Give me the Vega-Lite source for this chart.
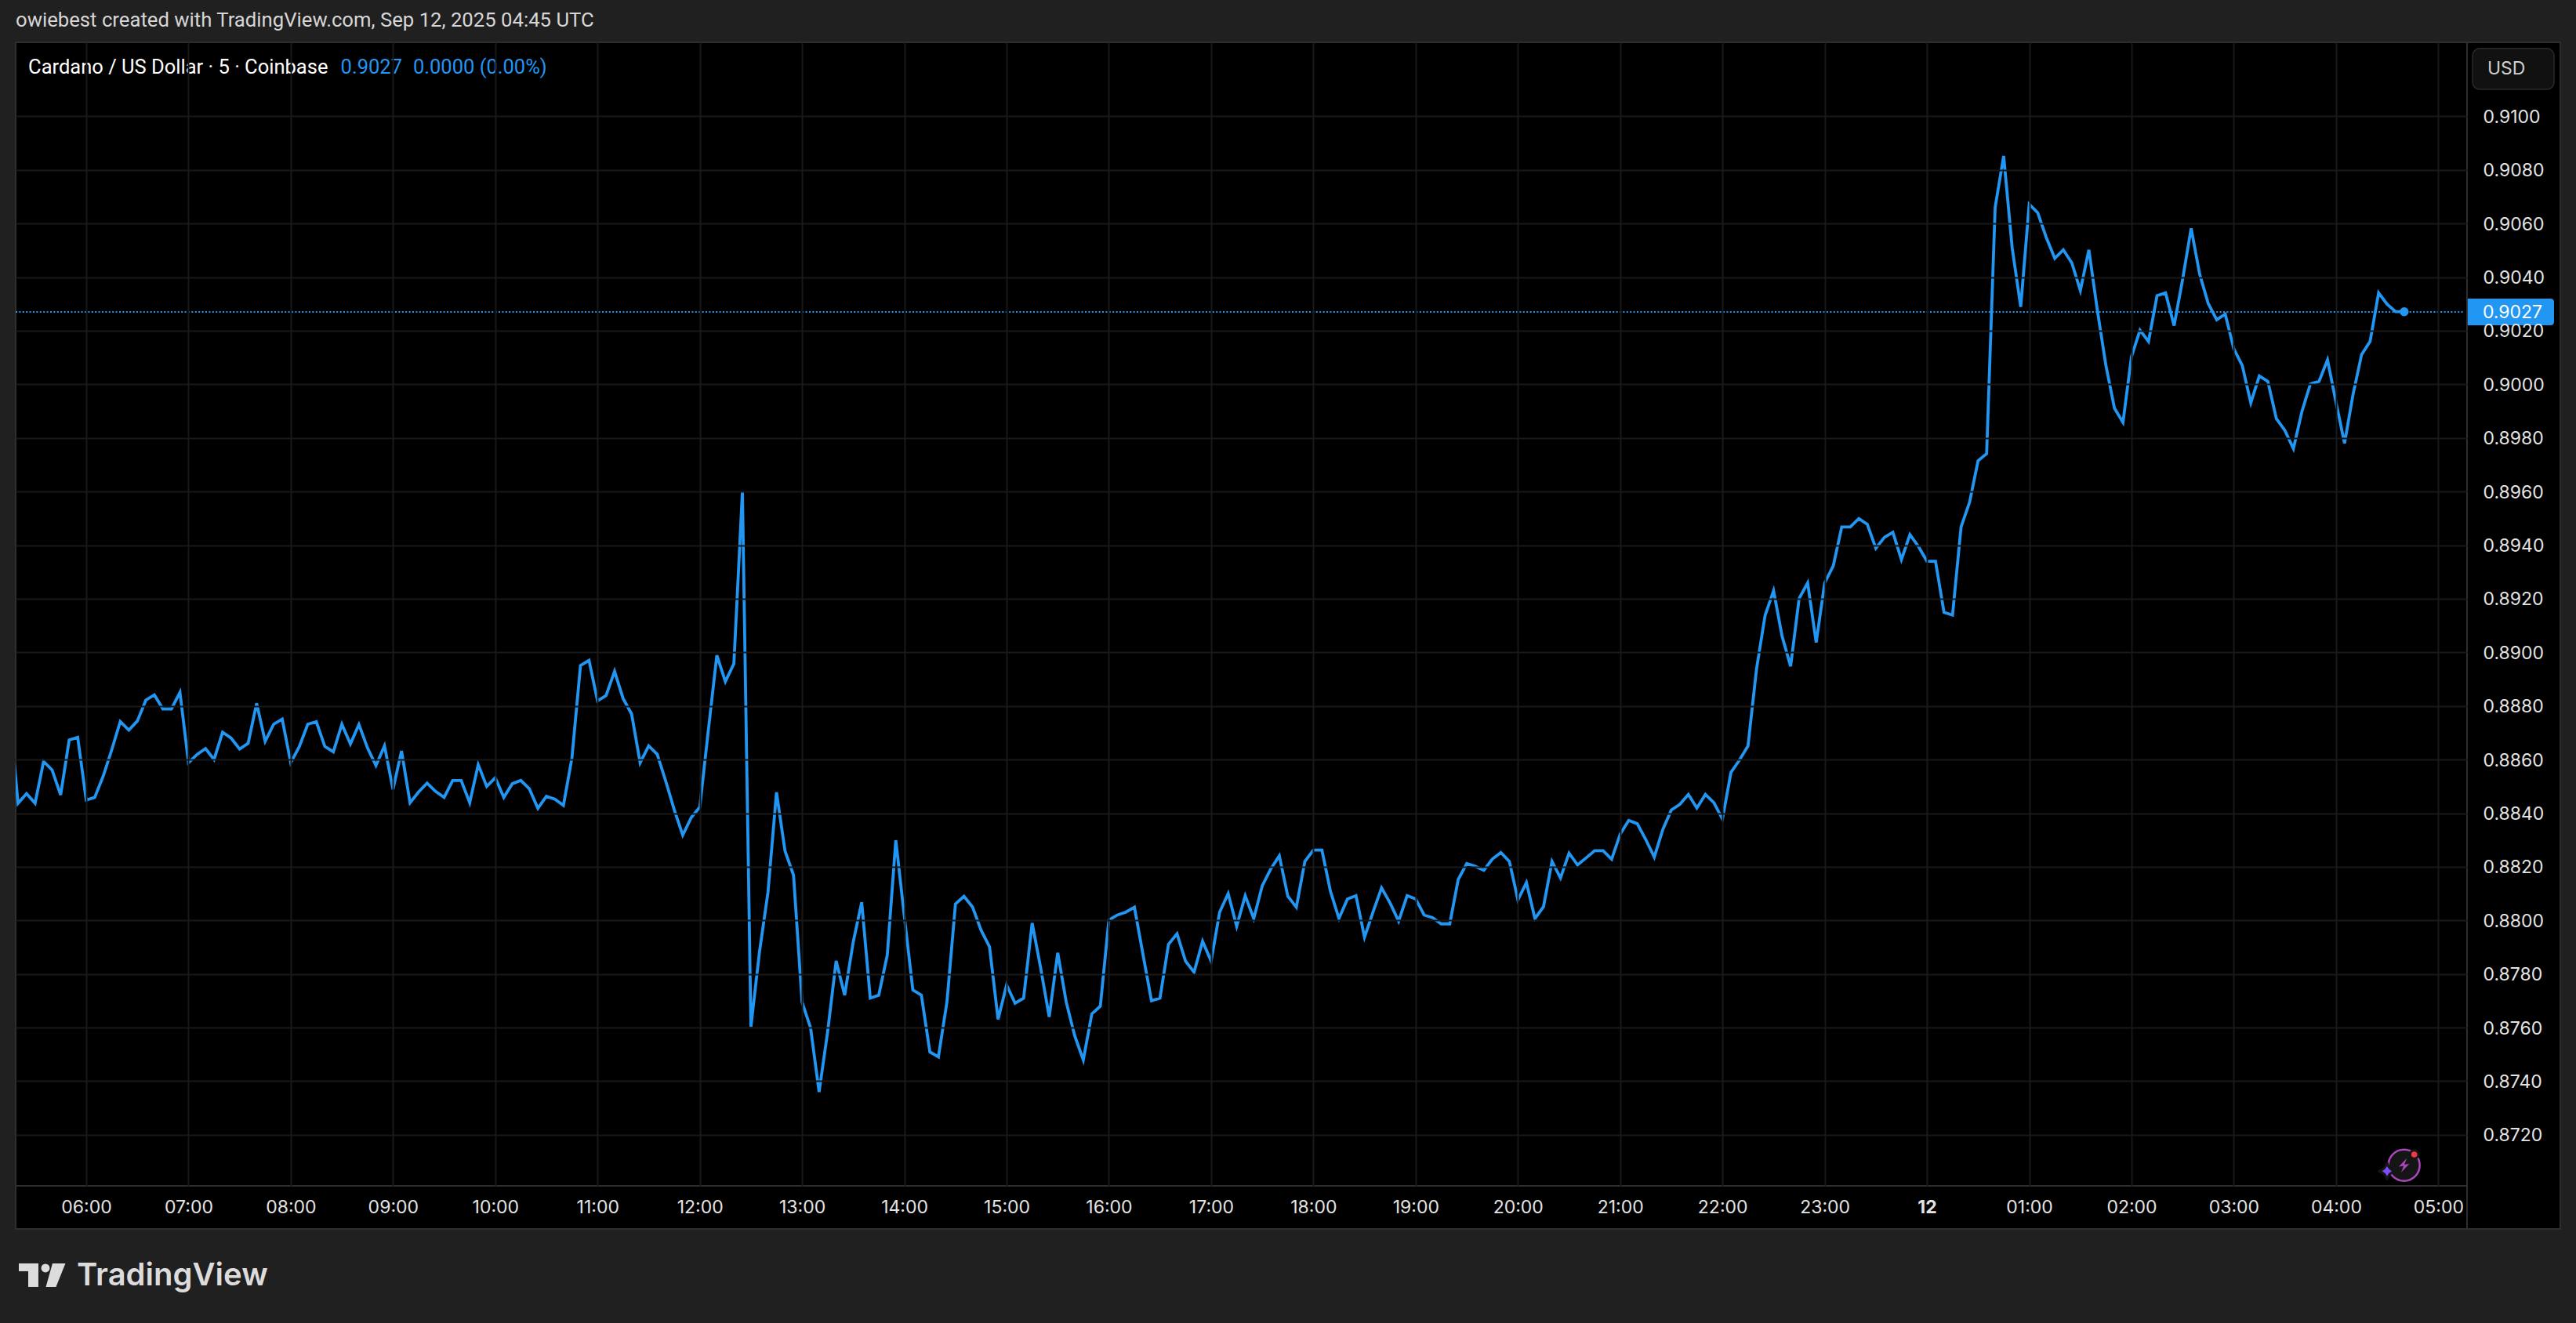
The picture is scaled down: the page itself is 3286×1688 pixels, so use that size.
{
  "$schema": "https://vega.github.io/schema/vega-lite/v6.json",
  "width": 3127,
  "height": 1459,
  "autosize": "none",
  "padding": {"left": 20, "top": 54, "right": 139, "bottom": 175},
  "background": "#202020",
  "config": {
    "view": {"fill": "#000000", "stroke": "#2e2e2e", "strokeWidth": 2},
    "font": "Inter"
  },
  "title": {
    "text": "owiebest created with TradingView.com, Sep 12, 2025 04:45 UTC",
    "anchor": "start",
    "frame": "group",
    "offset": 13,
    "font": "Roboto",
    "fontSize": 25.7,
    "fontWeight": "normal",
    "color": "#d6d6d6"
  },
  "datasets": {
    "price": [
      {"t":"2025-09-11T05:15:00Z","p":0.88778},{"t":"2025-09-11T05:20:00Z","p":0.88437},{"t":"2025-09-11T05:25:00Z","p":0.88473},{"t":"2025-09-11T05:30:00Z","p":0.88437},{"t":"2025-09-11T05:35:00Z","p":0.88593},{"t":"2025-09-11T05:40:00Z","p":0.88561},{"t":"2025-09-11T05:45:00Z","p":0.88468},{"t":"2025-09-11T05:50:00Z","p":0.88673},{"t":"2025-09-11T05:55:00Z","p":0.88683},
      {"t":"2025-09-11T06:00:00Z","p":0.88449},{"t":"2025-09-11T06:05:00Z","p":0.88459},{"t":"2025-09-11T06:10:00Z","p":0.88539},{"t":"2025-09-11T06:15:00Z","p":0.88637},{"t":"2025-09-11T06:20:00Z","p":0.88742},{"t":"2025-09-11T06:25:00Z","p":0.8871},{"t":"2025-09-11T06:30:00Z","p":0.88744},{"t":"2025-09-11T06:35:00Z","p":0.88822},{"t":"2025-09-11T06:40:00Z","p":0.88841},{"t":"2025-09-11T06:45:00Z","p":0.88789},{"t":"2025-09-11T06:50:00Z","p":0.88789},{"t":"2025-09-11T06:55:00Z","p":0.88851},
      {"t":"2025-09-11T07:00:00Z","p":0.88588},{"t":"2025-09-11T07:05:00Z","p":0.88619},{"t":"2025-09-11T07:10:00Z","p":0.88641},{"t":"2025-09-11T07:15:00Z","p":0.886},{"t":"2025-09-11T07:20:00Z","p":0.88702},{"t":"2025-09-11T07:25:00Z","p":0.8868},{"t":"2025-09-11T07:30:00Z","p":0.88639},{"t":"2025-09-11T07:35:00Z","p":0.88661},{"t":"2025-09-11T07:40:00Z","p":0.8881},{"t":"2025-09-11T07:45:00Z","p":0.88668},{"t":"2025-09-11T07:50:00Z","p":0.88732},{"t":"2025-09-11T07:55:00Z","p":0.88751},
      {"t":"2025-09-11T08:00:00Z","p":0.88588},{"t":"2025-09-11T08:05:00Z","p":0.88648},{"t":"2025-09-11T08:10:00Z","p":0.88732},{"t":"2025-09-11T08:15:00Z","p":0.88741},{"t":"2025-09-11T08:20:00Z","p":0.88649},{"t":"2025-09-11T08:25:00Z","p":0.88629},{"t":"2025-09-11T08:30:00Z","p":0.88732},{"t":"2025-09-11T08:35:00Z","p":0.88658},{"t":"2025-09-11T08:40:00Z","p":0.88731},{"t":"2025-09-11T08:45:00Z","p":0.88644},{"t":"2025-09-11T08:50:00Z","p":0.88578},{"t":"2025-09-11T08:55:00Z","p":0.88651},
      {"t":"2025-09-11T09:00:00Z","p":0.88489},{"t":"2025-09-11T09:05:00Z","p":0.88632},{"t":"2025-09-11T09:10:00Z","p":0.88439},{"t":"2025-09-11T09:15:00Z","p":0.88479},{"t":"2025-09-11T09:20:00Z","p":0.88512},{"t":"2025-09-11T09:25:00Z","p":0.88481},{"t":"2025-09-11T09:30:00Z","p":0.88459},{"t":"2025-09-11T09:35:00Z","p":0.88522},{"t":"2025-09-11T09:40:00Z","p":0.88522},{"t":"2025-09-11T09:45:00Z","p":0.88439},{"t":"2025-09-11T09:50:00Z","p":0.88581},{"t":"2025-09-11T09:55:00Z","p":0.885},
      {"t":"2025-09-11T10:00:00Z","p":0.88532},{"t":"2025-09-11T10:05:00Z","p":0.88459},{"t":"2025-09-11T10:10:00Z","p":0.8851},{"t":"2025-09-11T10:15:00Z","p":0.88522},{"t":"2025-09-11T10:20:00Z","p":0.88491},{"t":"2025-09-11T10:25:00Z","p":0.88418},{"t":"2025-09-11T10:30:00Z","p":0.88463},{"t":"2025-09-11T10:35:00Z","p":0.88452},{"t":"2025-09-11T10:40:00Z","p":0.88429},{"t":"2025-09-11T10:45:00Z","p":0.88607},{"t":"2025-09-11T10:50:00Z","p":0.88951},{"t":"2025-09-11T10:55:00Z","p":0.8897},
      {"t":"2025-09-11T11:00:00Z","p":0.88819},{"t":"2025-09-11T11:05:00Z","p":0.88839},{"t":"2025-09-11T11:10:00Z","p":0.88929},{"t":"2025-09-11T11:15:00Z","p":0.88828},{"t":"2025-09-11T11:20:00Z","p":0.8877},{"t":"2025-09-11T11:25:00Z","p":0.88588},{"t":"2025-09-11T11:30:00Z","p":0.88651},{"t":"2025-09-11T11:35:00Z","p":0.8862},{"t":"2025-09-11T11:40:00Z","p":0.8852},{"t":"2025-09-11T11:45:00Z","p":0.88413},{"t":"2025-09-11T11:50:00Z","p":0.88318},{"t":"2025-09-11T11:55:00Z","p":0.88384},
      {"t":"2025-09-11T12:00:00Z","p":0.88423},{"t":"2025-09-11T12:05:00Z","p":0.88709},{"t":"2025-09-11T12:10:00Z","p":0.88989},{"t":"2025-09-11T12:15:00Z","p":0.88891},{"t":"2025-09-11T12:20:00Z","p":0.88958},{"t":"2025-09-11T12:25:00Z","p":0.896},{"t":"2025-09-11T12:30:00Z","p":0.87603},{"t":"2025-09-11T12:35:00Z","p":0.87882},{"t":"2025-09-11T12:40:00Z","p":0.88105},{"t":"2025-09-11T12:45:00Z","p":0.88478},{"t":"2025-09-11T12:50:00Z","p":0.88259},{"t":"2025-09-11T12:55:00Z","p":0.88169},
      {"t":"2025-09-11T13:00:00Z","p":0.87695},{"t":"2025-09-11T13:05:00Z","p":0.87599},{"t":"2025-09-11T13:10:00Z","p":0.8736},{"t":"2025-09-11T13:15:00Z","p":0.87584},{"t":"2025-09-11T13:20:00Z","p":0.87849},{"t":"2025-09-11T13:25:00Z","p":0.87721},{"t":"2025-09-11T13:30:00Z","p":0.87919},{"t":"2025-09-11T13:35:00Z","p":0.88068},{"t":"2025-09-11T13:40:00Z","p":0.8771},{"t":"2025-09-11T13:45:00Z","p":0.87721},{"t":"2025-09-11T13:50:00Z","p":0.87871},{"t":"2025-09-11T13:55:00Z","p":0.88299},
      {"t":"2025-09-11T14:00:00Z","p":0.88016},{"t":"2025-09-11T14:05:00Z","p":0.8774},{"t":"2025-09-11T14:10:00Z","p":0.87721},{"t":"2025-09-11T14:15:00Z","p":0.87509},{"t":"2025-09-11T14:20:00Z","p":0.87491},{"t":"2025-09-11T14:25:00Z","p":0.87695},{"t":"2025-09-11T14:30:00Z","p":0.88061},{"t":"2025-09-11T14:35:00Z","p":0.8809},{"t":"2025-09-11T14:40:00Z","p":0.8805},{"t":"2025-09-11T14:45:00Z","p":0.87964},{"t":"2025-09-11T14:50:00Z","p":0.87901},{"t":"2025-09-11T14:55:00Z","p":0.87631},
      {"t":"2025-09-11T15:00:00Z","p":0.87759},{"t":"2025-09-11T15:05:00Z","p":0.87691},{"t":"2025-09-11T15:10:00Z","p":0.8771},{"t":"2025-09-11T15:15:00Z","p":0.8799},{"t":"2025-09-11T15:20:00Z","p":0.87822},{"t":"2025-09-11T15:25:00Z","p":0.8764},{"t":"2025-09-11T15:30:00Z","p":0.87879},{"t":"2025-09-11T15:35:00Z","p":0.87695},{"t":"2025-09-11T15:40:00Z","p":0.87569},{"t":"2025-09-11T15:45:00Z","p":0.87479},{"t":"2025-09-11T15:50:00Z","p":0.87651},{"t":"2025-09-11T15:55:00Z","p":0.8768},
      {"t":"2025-09-11T16:00:00Z","p":0.88001},{"t":"2025-09-11T16:05:00Z","p":0.8802},{"t":"2025-09-11T16:10:00Z","p":0.88031},{"t":"2025-09-11T16:15:00Z","p":0.88049},{"t":"2025-09-11T16:20:00Z","p":0.87874},{"t":"2025-09-11T16:25:00Z","p":0.877},{"t":"2025-09-11T16:30:00Z","p":0.8771},{"t":"2025-09-11T16:35:00Z","p":0.87911},{"t":"2025-09-11T16:40:00Z","p":0.8795},{"t":"2025-09-11T16:45:00Z","p":0.87848},{"t":"2025-09-11T16:50:00Z","p":0.87807},{"t":"2025-09-11T16:55:00Z","p":0.87922},
      {"t":"2025-09-11T17:00:00Z","p":0.87848},{"t":"2025-09-11T17:05:00Z","p":0.88031},{"t":"2025-09-11T17:10:00Z","p":0.881},{"t":"2025-09-11T17:15:00Z","p":0.87978},{"t":"2025-09-11T17:20:00Z","p":0.88092},{"t":"2025-09-11T17:25:00Z","p":0.88007},{"t":"2025-09-11T17:30:00Z","p":0.88129},{"t":"2025-09-11T17:35:00Z","p":0.88192},{"t":"2025-09-11T17:40:00Z","p":0.88241},{"t":"2025-09-11T17:45:00Z","p":0.8809},{"t":"2025-09-11T17:50:00Z","p":0.88049},{"t":"2025-09-11T17:55:00Z","p":0.8822},
      {"t":"2025-09-11T18:00:00Z","p":0.88262},{"t":"2025-09-11T18:05:00Z","p":0.88262},{"t":"2025-09-11T18:10:00Z","p":0.88109},{"t":"2025-09-11T18:15:00Z","p":0.88007},{"t":"2025-09-11T18:20:00Z","p":0.8808},{"t":"2025-09-11T18:25:00Z","p":0.88092},{"t":"2025-09-11T18:30:00Z","p":0.87937},{"t":"2025-09-11T18:35:00Z","p":0.88031},{"t":"2025-09-11T18:40:00Z","p":0.88121},{"t":"2025-09-11T18:45:00Z","p":0.88065},{"t":"2025-09-11T18:50:00Z","p":0.87997},{"t":"2025-09-11T18:55:00Z","p":0.88092},
      {"t":"2025-09-11T19:00:00Z","p":0.8808},{"t":"2025-09-11T19:05:00Z","p":0.8802},{"t":"2025-09-11T19:10:00Z","p":0.8801},{"t":"2025-09-11T19:15:00Z","p":0.87987},{"t":"2025-09-11T19:20:00Z","p":0.87987},{"t":"2025-09-11T19:25:00Z","p":0.88153},{"t":"2025-09-11T19:30:00Z","p":0.88212},{"t":"2025-09-11T19:35:00Z","p":0.88202},{"t":"2025-09-11T19:40:00Z","p":0.88187},{"t":"2025-09-11T19:45:00Z","p":0.88229},{"t":"2025-09-11T19:50:00Z","p":0.88253},{"t":"2025-09-11T19:55:00Z","p":0.8822},
      {"t":"2025-09-11T20:00:00Z","p":0.88077},{"t":"2025-09-11T20:05:00Z","p":0.88141},{"t":"2025-09-11T20:10:00Z","p":0.88007},{"t":"2025-09-11T20:15:00Z","p":0.88051},{"t":"2025-09-11T20:20:00Z","p":0.8822},{"t":"2025-09-11T20:25:00Z","p":0.88158},{"t":"2025-09-11T20:30:00Z","p":0.88251},{"t":"2025-09-11T20:35:00Z","p":0.88207},{"t":"2025-09-11T20:40:00Z","p":0.88233},{"t":"2025-09-11T20:45:00Z","p":0.8826},{"t":"2025-09-11T20:50:00Z","p":0.8826},{"t":"2025-09-11T20:55:00Z","p":0.88228},
      {"t":"2025-09-11T21:00:00Z","p":0.88322},{"t":"2025-09-11T21:05:00Z","p":0.88373},{"t":"2025-09-11T21:10:00Z","p":0.88361},{"t":"2025-09-11T21:15:00Z","p":0.88302},{"t":"2025-09-11T21:20:00Z","p":0.88236},{"t":"2025-09-11T21:25:00Z","p":0.88339},{"t":"2025-09-11T21:30:00Z","p":0.88412},{"t":"2025-09-11T21:35:00Z","p":0.88433},{"t":"2025-09-11T21:40:00Z","p":0.8847},{"t":"2025-09-11T21:45:00Z","p":0.88419},{"t":"2025-09-11T21:50:00Z","p":0.8847},{"t":"2025-09-11T21:55:00Z","p":0.88439},
      {"t":"2025-09-11T22:00:00Z","p":0.88378},{"t":"2025-09-11T22:05:00Z","p":0.88552},{"t":"2025-09-11T22:10:00Z","p":0.88598},{"t":"2025-09-11T22:15:00Z","p":0.88651},{"t":"2025-09-11T22:20:00Z","p":0.88938},{"t":"2025-09-11T22:25:00Z","p":0.89137},{"t":"2025-09-11T22:30:00Z","p":0.8923},{"t":"2025-09-11T22:35:00Z","p":0.8906},{"t":"2025-09-11T22:40:00Z","p":0.88948},{"t":"2025-09-11T22:45:00Z","p":0.89201},{"t":"2025-09-11T22:50:00Z","p":0.89259},{"t":"2025-09-11T22:55:00Z","p":0.89037},
      {"t":"2025-09-11T23:00:00Z","p":0.89259},{"t":"2025-09-11T23:05:00Z","p":0.89322},{"t":"2025-09-11T23:10:00Z","p":0.89468},{"t":"2025-09-11T23:15:00Z","p":0.89468},{"t":"2025-09-11T23:20:00Z","p":0.89499},{"t":"2025-09-11T23:25:00Z","p":0.89478},{"t":"2025-09-11T23:30:00Z","p":0.89388},{"t":"2025-09-11T23:35:00Z","p":0.89429},{"t":"2025-09-11T23:40:00Z","p":0.89448},{"t":"2025-09-11T23:45:00Z","p":0.89346},{"t":"2025-09-11T23:50:00Z","p":0.89439},{"t":"2025-09-11T23:55:00Z","p":0.89395},
      {"t":"2025-09-12T00:00:00Z","p":0.8934},{"t":"2025-09-12T00:05:00Z","p":0.8934},{"t":"2025-09-12T00:10:00Z","p":0.89149},{"t":"2025-09-12T00:15:00Z","p":0.89139},{"t":"2025-09-12T00:20:00Z","p":0.89468},{"t":"2025-09-12T00:25:00Z","p":0.8956},{"t":"2025-09-12T00:30:00Z","p":0.89715},{"t":"2025-09-12T00:35:00Z","p":0.89741},{"t":"2025-09-12T00:40:00Z","p":0.9066},{"t":"2025-09-12T00:45:00Z","p":0.90852},{"t":"2025-09-12T00:50:00Z","p":0.90509},{"t":"2025-09-12T00:55:00Z","p":0.90289},
      {"t":"2025-09-12T01:00:00Z","p":0.90672},{"t":"2025-09-12T01:05:00Z","p":0.9064},{"t":"2025-09-12T01:10:00Z","p":0.90548},{"t":"2025-09-12T01:15:00Z","p":0.9047},{"t":"2025-09-12T01:20:00Z","p":0.90502},{"t":"2025-09-12T01:25:00Z","p":0.90453},{"t":"2025-09-12T01:30:00Z","p":0.9035},{"t":"2025-09-12T01:35:00Z","p":0.90502},{"t":"2025-09-12T01:40:00Z","p":0.90275},{"t":"2025-09-12T01:45:00Z","p":0.9007},{"t":"2025-09-12T01:50:00Z","p":0.89911},{"t":"2025-09-12T01:55:00Z","p":0.89858},
      {"t":"2025-09-12T02:00:00Z","p":0.90104},{"t":"2025-09-12T02:05:00Z","p":0.90202},{"t":"2025-09-12T02:10:00Z","p":0.9016},{"t":"2025-09-12T02:15:00Z","p":0.90331},{"t":"2025-09-12T02:20:00Z","p":0.90341},{"t":"2025-09-12T02:25:00Z","p":0.90219},{"t":"2025-09-12T02:30:00Z","p":0.90392},{"t":"2025-09-12T02:35:00Z","p":0.90582},{"t":"2025-09-12T02:40:00Z","p":0.90411},{"t":"2025-09-12T02:45:00Z","p":0.90302},{"t":"2025-09-12T02:50:00Z","p":0.90241},{"t":"2025-09-12T02:55:00Z","p":0.90262},
      {"t":"2025-09-12T03:00:00Z","p":0.90133},{"t":"2025-09-12T03:05:00Z","p":0.9007},{"t":"2025-09-12T03:10:00Z","p":0.89931},{"t":"2025-09-12T03:15:00Z","p":0.90031},{"t":"2025-09-12T03:20:00Z","p":0.90011},{"t":"2025-09-12T03:25:00Z","p":0.89872},{"t":"2025-09-12T03:30:00Z","p":0.89828},{"t":"2025-09-12T03:35:00Z","p":0.8976},{"t":"2025-09-12T03:40:00Z","p":0.89899},{"t":"2025-09-12T03:45:00Z","p":0.90002},{"t":"2025-09-12T03:50:00Z","p":0.90011},{"t":"2025-09-12T03:55:00Z","p":0.90091},
      {"t":"2025-09-12T04:00:00Z","p":0.89933},{"t":"2025-09-12T04:05:00Z","p":0.8978},{"t":"2025-09-12T04:10:00Z","p":0.89963},{"t":"2025-09-12T04:15:00Z","p":0.90111},{"t":"2025-09-12T04:20:00Z","p":0.9016},{"t":"2025-09-12T04:25:00Z","p":0.90341},{"t":"2025-09-12T04:30:00Z","p":0.90299},{"t":"2025-09-12T04:35:00Z","p":0.90271},{"t":"2025-09-12T04:40:00Z","p":0.90271}
    ]
  },
  "encoding": {
    "x": {
      "field": "t",
      "type": "temporal",
      "title": null,
      "scale": {"type": "utc", "domain": ["2025-09-11T05:18:37Z", "2025-09-12T05:16:52Z"], "nice": false},
      "axis": {
        "orient": "bottom",
        "zindex": 1,
        "values": ["2025-09-11T06:00:00Z","2025-09-11T07:00:00Z","2025-09-11T08:00:00Z","2025-09-11T09:00:00Z","2025-09-11T10:00:00Z","2025-09-11T11:00:00Z","2025-09-11T12:00:00Z","2025-09-11T13:00:00Z","2025-09-11T14:00:00Z","2025-09-11T15:00:00Z","2025-09-11T16:00:00Z","2025-09-11T17:00:00Z","2025-09-11T18:00:00Z","2025-09-11T19:00:00Z","2025-09-11T20:00:00Z","2025-09-11T21:00:00Z","2025-09-11T22:00:00Z","2025-09-11T23:00:00Z","2025-09-12T00:00:00Z","2025-09-12T01:00:00Z","2025-09-12T02:00:00Z","2025-09-12T03:00:00Z","2025-09-12T04:00:00Z","2025-09-12T05:00:00Z"],
        "labelExpr": "utcFormat(datum.value, '%H:%M') === '00:00' ? '12' : utcFormat(datum.value, '%H:%M')",
        "labelFontWeight": {"condition": {"test": "utcFormat(datum.value, '%H:%M') === '00:00'", "value": "bold"}, "value": "normal"},
        "labelFont": "Inter",
        "labelFontSize": 23,
        "labelColor": "#e4e4e4",
        "labelPadding": 16,
        "labelOverlap": false,
        "labelFlush": false,
        "domain": false,
        "ticks": false,
        "grid": true,
        "gridColor": "#181818",
        "gridWidth": 2
      }
    },
    "y": {
      "field": "p",
      "type": "quantitative",
      "title": null,
      "scale": {"domain": [0.870096, 0.91276], "nice": false, "zero": false},
      "axis": {
        "orient": "right",
        "zindex": 1,
        "values": [0.872,0.874,0.876,0.878,0.88,0.882,0.884,0.886,0.888,0.89,0.892,0.894,0.896,0.898,0.9,0.902,0.904,0.906,0.908,0.91],
        "format": ".4f",
        "labelFont": "Inter",
        "labelFontSize": 23,
        "labelColor": "#e4e4e4",
        "labelPadding": 20,
        "labelOffset": 1,
        "labelOverlap": false,
        "labelFlush": false,
        "domain": false,
        "ticks": false,
        "grid": true,
        "gridColor": "#181818",
        "gridWidth": 2
      }
    }
  },
  "layer": [
    {
      "data": {"values": [
        {"t": "2025-09-12T05:16:52Z", "t2": "2025-09-12T06:11:35Z", "p": 0.91276, "p2": 0.868488},
        {"t": "2025-09-11T05:18:37Z", "t2": "2025-09-12T05:16:52Z", "p": 0.870096, "p2": 0.868488}
      ]},
      "mark": {"type": "rect", "fill": "#000000", "stroke": "#2e2e2e", "strokeWidth": 2},
      "encoding": {"x2": {"field": "t2"}, "y2": {"field": "p2"}}
    },
    {
      "data": {"values": [{"t": "2025-09-12T05:20:06Z", "t2": "2025-09-12T06:07:55Z", "p": 0.912532, "p2": 0.911003}]},
      "mark": {"type": "rect", "fill": "#111111", "stroke": "#2a2a2a", "strokeWidth": 1.5, "cornerRadius": 9},
      "encoding": {"x2": {"field": "t2"}, "y2": {"field": "p2"}}
    },
    {
      "data": {"values": [{"t": "2025-09-12T05:28:48Z", "p": 0.91178, "label": "USD"}]},
      "mark": {"type": "text", "align": "left", "baseline": "middle", "font": "Inter", "fontSize": 23, "color": "#cfcfcf"},
      "encoding": {"text": {"field": "label"}}
    },
    {
      "data": {"values": [{"t": "2025-09-11T05:18:37Z", "t2": "2025-09-12T05:14:35Z", "p": 0.9027}]},
      "mark": {"type": "rule", "color": "#2196f3", "strokeWidth": 2, "strokeDash": [2, 2.4]},
      "encoding": {"x2": {"field": "t2"}}
    },
    {
      "data": {"name": "price"},
      "mark": {"type": "line", "color": "#2196f3", "strokeWidth": 3.8, "interpolate": "linear", "clip": true},
      "encoding": {}
    },
    {
      "data": {"values": [{"t": "2025-09-12T04:40:00Z", "p": 0.90271}]},
      "mark": {"type": "point", "shape": "circle", "filled": true, "color": "#2196f3", "opacity": 1, "size": 130},
      "encoding": {}
    },
    {
      "data": {"values": [{"t": "2025-09-12T05:17:17Z", "t2": "2025-09-12T06:07:55Z", "p": 0.903196, "p2": 0.902202}]},
      "mark": {"type": "rect", "fill": "#2196f3", "cornerRadiusTopRight": 4, "cornerRadiusBottomRight": 4},
      "encoding": {"x2": {"field": "t2"}, "y2": {"field": "p2"}}
    },
    {
      "data": {"values": [{"t": "2025-09-12T05:26:02Z", "p": 0.90268, "label": "0.9027"}]},
      "mark": {"type": "text", "align": "left", "baseline": "middle", "font": "Inter", "fontSize": 23, "color": "#ffffff"},
      "encoding": {"text": {"field": "label"}}
    },
    {
      "data": {"values": [{"t": "2025-09-11T05:26:00Z", "p": 0.91182, "label": "Cardano / US Dollar · 5 · Coinbase"}]},
      "mark": {"type": "text", "align": "left", "baseline": "middle", "font": "Roboto", "fontSize": 25.5, "color": "#ffffff"},
      "encoding": {"text": {"field": "label"}}
    },
    {
      "data": {"values": [
        {"t": "2025-09-11T08:29:18Z", "p": 0.91182, "label": "0.9027"},
        {"t": "2025-09-11T09:11:48Z", "p": 0.91182, "label": "0.0000 (0.00%)"}
      ]},
      "mark": {"type": "text", "align": "left", "baseline": "middle", "font": "Roboto", "fontSize": 25.5, "color": "#2196f3"},
      "encoding": {"text": {"field": "label"}}
    },
    {
      "data": {"values": [
        {"t": "2025-09-11T05:20:27Z", "t2": "2025-09-11T05:31:56Z", "p": 0.867202, "p2": 0.86691},
        {"t": "2025-09-11T05:25:58Z", "t2": "2025-09-11T05:31:56Z", "p": 0.867202, "p2": 0.866325}
      ]},
      "mark": {"type": "rect", "fill": "#dcdcdc"},
      "encoding": {"x2": {"field": "t2"}, "y2": {"field": "p2"}}
    },
    {
      "data": {"values": [{"t": "2025-09-11T05:36:05Z", "p": 0.867026}]},
      "mark": {"type": "point", "shape": "circle", "filled": true, "color": "#dcdcdc", "opacity": 1, "size": 120},
      "encoding": {}
    },
    {
      "data": {"values": [{"t": "2025-09-11T05:42:04Z", "p": 0.866762}]},
      "mark": {"type": "point", "shape": "M-0.27,-1L0.83,-1L0.03,1L-0.83,1Z", "filled": true, "color": "#dcdcdc", "opacity": 1, "size": 900},
      "encoding": {}
    },
    {
      "data": {"values": [{"t": "2025-09-11T05:54:29Z", "p": 0.866734, "label": "TradingView"}]},
      "mark": {"type": "text", "align": "left", "baseline": "middle", "font": "Inter", "fontSize": 40, "fontWeight": 600, "color": "#dcdcdc"},
      "encoding": {"text": {"field": "label"}}
    },
    {
      "data": {"values": [{"t": "2025-09-12T04:39:54Z", "p": 0.870865}]},
      "mark": {"type": "point", "shape": "circle", "filled": true, "fill": "#151515", "stroke": "#ab47bc", "strokeWidth": 2.5, "opacity": 1, "size": 1600},
      "encoding": {}
    },
    {
      "data": {"values": [{"t": "2025-09-12T04:39:54Z", "p": 0.870865}]},
      "mark": {"type": "point", "shape": "M0.4,-1L-0.75,0.2L-0.05,0.1L-0.4,1L0.75,-0.2L0.05,-0.1Z", "filled": true, "color": "#ab47bc", "opacity": 1, "size": 324},
      "encoding": {}
    },
    {
      "data": {"values": [{"t": "2025-09-12T04:29:56Z", "p": 0.870643}]},
      "mark": {"type": "point", "shape": "M0,-1Q0.15,-0.15,1,0Q0.15,0.15,0,1Q-0.15,0.15,-1,0Q-0.15,-0.15,0,-1Z", "filled": true, "fill": "#7c4dff", "stroke": "#151515", "strokeWidth": 3, "opacity": 1, "size": 500},
      "encoding": {}
    },
    {
      "data": {"values": [{"t": "2025-09-12T04:45:54Z", "p": 0.871266}]},
      "mark": {"type": "point", "shape": "circle", "filled": true, "fill": "#f23645", "stroke": "#151515", "strokeWidth": 3, "opacity": 1, "size": 110},
      "encoding": {}
    }
  ]
}
